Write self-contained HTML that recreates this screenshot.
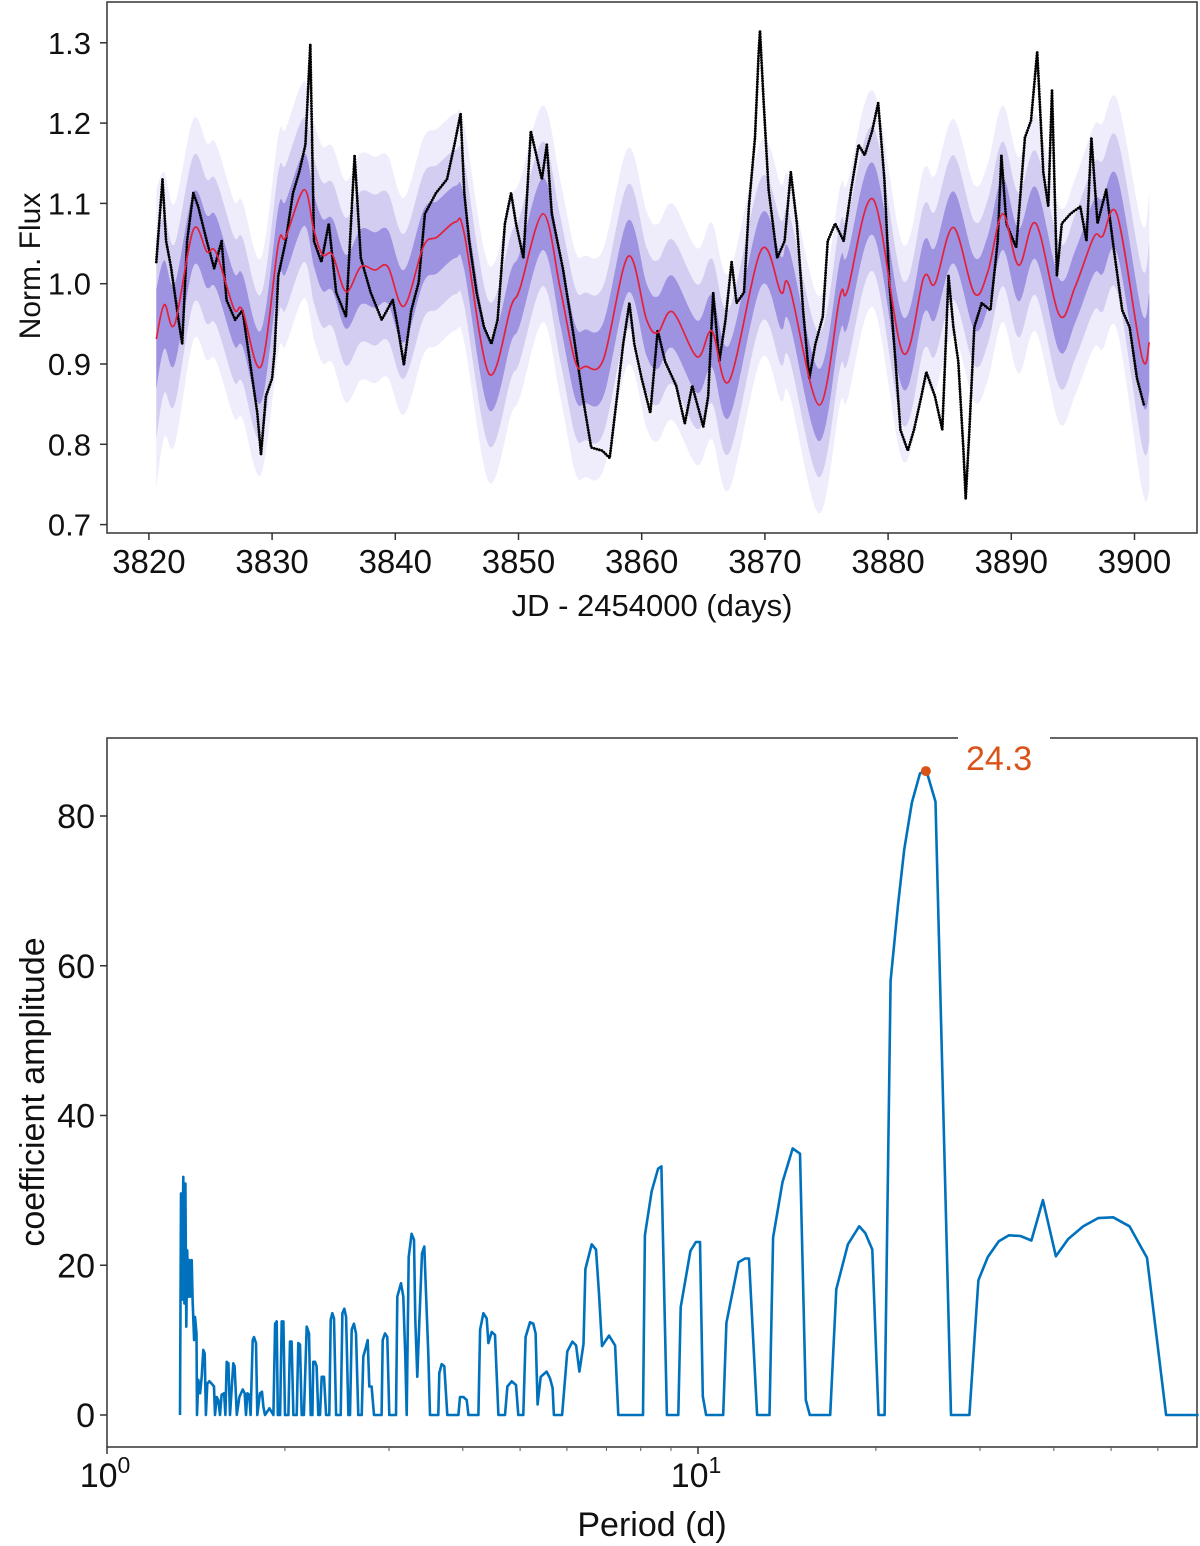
<!DOCTYPE html>
<html><head><meta charset="utf-8"><style>
html,body{margin:0;padding:0;background:#fff;}
svg{display:block;font-family:"Liberation Sans",sans-serif;}
</style></head><body>
<svg id="fig" width="1200" height="1546" viewBox="0 0 1200 1546" xmlns="http://www.w3.org/2000/svg">
<g id="topPanel"></g>
<g id="botPanel"></g>
</svg>
<script>
// ---------- Top panel data ----------
const gpDays = [3820.6,3821.25,3822.1,3823.6,3824.7,3825.45,3826.9,3827.6,3829.1,3830.5,3831.1,3832.6,3833.4,3834.1,3834.9,3836.0,3837.2,3838.35,3839.4,3840.7,3842.3,3843.4,3844.9,3845.6,3847.6,3849.4,3850.1,3852.0,3853.4,3854.6,3855.45,3856.9,3858.9,3860.4,3861.3,3862.5,3864.5,3865.7,3867.1,3869.7,3871.3,3872.0,3874.4,3876.1,3876.7,3878.8,3881.2,3882.9,3883.8,3885.3,3887.0,3888.1,3889.3,3890.6,3892.0,3893.9,3895.2,3896.7,3897.4,3898.6,3900.6,3901.2];
const gpMean = [0.931,0.974,0.950,1.067,1.040,1.039,0.969,0.967,0.897,1.049,1.058,1.117,1.066,1.036,1.036,0.990,1.021,1.017,1.021,0.972,1.047,1.058,1.077,1.062,0.888,0.972,0.993,1.087,0.993,0.903,0.897,0.906,1.034,0.955,0.939,0.965,0.909,0.941,0.879,1.042,0.989,0.996,0.849,0.985,0.991,1.105,0.914,1.008,1.000,1.070,0.988,1.015,1.087,1.023,1.075,0.961,0.997,1.058,1.059,1.085,0.909,0.927];
const gpSigma = [0.062,0.055,0.05,0.046,0.045,0.045,0.045,0.045,0.045,0.045,0.045,0.045,0.045,0.045,0.045,0.046,0.047,0.047,0.046,0.045,0.045,0.045,0.045,0.045,0.045,0.045,0.045,0.045,0.045,0.046,0.046,0.046,0.045,0.045,0.045,0.045,0.045,0.045,0.045,0.045,0.045,0.045,0.045,0.045,0.045,0.045,0.045,0.045,0.045,0.045,0.045,0.045,0.045,0.045,0.045,0.045,0.045,0.046,0.047,0.048,0.055,0.062];
const obsDays = [3820.6,3821.1,3821.4,3821.8,3822.4,3822.7,3823.1,3823.6,3824.0,3824.7,3825.3,3825.9,3826.3,3827.0,3827.6,3828.2,3828.8,3829.1,3829.5,3830.0,3830.2,3830.5,3831.1,3831.7,3832.2,3832.7,3833.0,3833.1,3833.4,3834.0,3834.6,3835.2,3836.0,3836.7,3837.2,3838.0,3838.9,3839.8,3840.2,3840.7,3841.3,3841.9,3842.4,3843.3,3844.2,3844.8,3845.3,3845.6,3846.0,3846.6,3847.2,3847.8,3848.3,3848.9,3849.4,3849.8,3850.4,3851.0,3851.9,3852.3,3852.7,3853.6,3854.5,3855.2,3855.9,3856.8,3857.4,3858.0,3858.5,3859.0,3859.4,3860.0,3860.7,3861.3,3861.9,3862.8,3863.5,3864.1,3865.0,3865.4,3865.8,3866.3,3866.8,3867.3,3867.7,3868.3,3868.7,3869.2,3869.5,3869.6,3869.9,3870.3,3871.0,3871.6,3872.1,3872.6,3873.1,3873.6,3874.1,3874.7,3875.1,3875.7,3876.4,3877.0,3877.6,3878.1,3878.7,3879.2,3879.7,3880.1,3880.6,3881.0,3881.6,3882.1,3882.7,3883.1,3883.8,3884.4,3884.9,3885.3,3885.7,3886.1,3886.3,3886.6,3887.0,3887.6,3888.3,3888.9,3889.2,3889.6,3890.4,3891.1,3891.6,3892.1,3892.6,3893.0,3893.3,3893.7,3894.1,3894.8,3895.6,3896.1,3896.5,3897.0,3897.7,3898.3,3899.0,3899.6,3900.2,3900.8];
const obsFlux = [1.027,1.13,1.053,1.02,0.955,0.925,1.053,1.113,1.096,1.053,1.019,1.053,0.98,0.955,0.967,0.903,0.839,0.787,0.86,0.882,0.916,1.01,1.053,1.113,1.139,1.173,1.268,1.298,1.053,1.027,1.075,0.989,0.959,1.16,1.032,0.989,0.955,0.98,0.946,0.899,0.967,1.002,1.087,1.113,1.13,1.173,1.212,1.113,1.053,0.989,0.946,0.925,0.955,1.075,1.113,1.075,1.032,1.19,1.13,1.173,1.087,1.019,0.933,0.86,0.796,0.792,0.783,0.86,0.925,0.976,0.925,0.882,0.839,0.942,0.903,0.873,0.826,0.873,0.822,0.86,0.989,0.903,0.955,1.027,0.976,0.989,1.096,1.182,1.289,1.315,1.225,1.117,1.032,1.053,1.139,1.075,0.967,0.882,0.925,0.959,1.053,1.075,1.053,1.117,1.173,1.16,1.19,1.225,1.13,1.002,0.903,0.818,0.792,0.818,0.86,0.89,0.86,0.818,1.01,0.946,0.903,0.796,0.732,0.818,0.946,0.976,0.967,1.053,1.16,1.075,1.045,1.182,1.203,1.289,1.139,1.096,1.242,1.01,1.075,1.087,1.096,1.053,1.182,1.075,1.117,1.045,0.967,0.946,0.882,0.847];
const topYTicks = [0.7,0.8,0.9,1.0,1.1,1.2,1.3];
const topXTicks = [3820,3830,3840,3850,3860,3870,3880,3890,3900];

// ---------- Bottom panel data ----------
const periods = [1.329,1.334,1.339,1.346,1.352,1.357,1.362,1.367,1.373,1.378,1.383,1.391,1.396,1.404,1.409,1.417,1.420,1.427,1.437,1.446,1.455,1.463,1.470,1.478,1.490,1.503,1.517,1.523,1.533,1.543,1.553,1.563,1.578,1.586,1.594,1.605,1.615,1.636,1.644,1.658,1.675,1.697,1.710,1.719,1.728,1.741,1.750,1.764,1.773,1.787,1.796,1.815,1.829,1.839,1.851,1.883,1.912,1.925,1.937,1.945,1.963,1.975,1.988,2.001,2.027,2.040,2.053,2.067,2.094,2.107,2.121,2.135,2.154,2.177,2.197,2.211,2.226,2.234,2.249,2.263,2.278,2.293,2.308,2.329,2.348,2.378,2.391,2.406,2.422,2.441,2.486,2.502,2.521,2.538,2.561,2.577,2.594,2.617,2.638,2.662,2.697,2.714,2.739,2.761,2.779,2.804,2.830,2.915,2.927,2.954,2.981,3.004,3.071,3.083,3.099,3.144,3.172,3.197,3.214,3.239,3.277,3.307,3.324,3.350,3.377,3.412,3.443,3.466,3.497,3.520,3.636,3.650,3.684,3.722,3.766,3.931,3.957,4.009,4.061,4.088,4.250,4.278,4.334,4.390,4.419,4.477,4.535,4.595,4.714,4.758,4.839,4.921,4.966,5.063,5.109,5.196,5.264,5.312,5.354,5.417,5.545,5.618,5.676,5.705,5.89,6.01,6.13,6.22,6.30,6.40,6.45,6.61,6.72,6.80,6.88,7.07,7.24,7.33,8.07,8.13,8.35,8.56,8.67,8.86,9.26,9.35,9.71,9.92,10.08,10.19,10.32,11.03,11.17,11.71,12.01,12.20,12.59,13.21,13.40,13.90,14.46,14.88,15.22,15.46,16.74,17.14,17.93,18.74,19.19,19.72,20.20,20.69,21.18,21.80,22.33,23.01,23.75,24.36,25.23,26.8,28.79,29.82,30.93,32.28,33.59,35.13,36.65,38.33,40.32,42.31,44.87,47.53,50.41,53.71,57.5,61.94,70.3];
const amps = [0,29.6,15.4,31.8,14.9,30.9,11.8,22.0,15.8,20.7,15.8,20.7,15.4,10.0,13.1,10.9,0,4.7,2.9,5.1,8.7,8.2,0,4.2,4.5,4.2,3.8,0,2.4,2.0,0,2.7,2.9,0,7.1,6.9,0,6.9,6.5,0,2.4,3.4,2.9,0,2.9,2.7,0,10.0,10.4,9.6,0,2.9,3.1,1.1,0,0.9,0,12.2,12.5,0,0,12.5,12.5,0,0,9.8,9.8,0,0,9.6,9.4,0,0,11.8,10.9,0,0,7.1,7.1,6.5,0,0,5.1,5.1,0,0,12.7,13.6,12.9,0,0,13.6,14.2,13.1,0,0,11.4,12.2,10.9,0,0,7.8,8.9,10.0,3.8,3.8,0,0,10.0,10.9,10.4,0,0,0,15.8,17.6,15.8,7.8,0,21.1,24.2,23.4,12.7,5.1,12.7,21.6,22.5,16.3,8.2,0,0,5.6,6.8,6.5,0,0,2.4,2.4,2.0,0,0,11.4,13.6,12.9,9.6,11.1,10.7,0,0,3.8,4.5,4.0,0,0,10.4,12.4,12.2,10.9,1.4,5.1,5.8,4.9,3.6,0,0,8.5,9.8,9.3,5.8,9.5,19.5,22.8,22.1,16.2,9.2,10.6,9.3,0,0,24,29.9,32.9,33.2,0,0,14.4,21.9,23.1,23.1,2.5,0,0,12.3,20.4,20.9,20.9,0,0,23.7,31.1,35.6,34.9,2,0,0,16.8,22.8,25.2,24.3,22.1,0,0,58,68.1,75.5,81.8,85.7,86.0,81.9,0,0,18,21.1,23.2,24,23.9,23.3,28.7,21.2,23.5,25.2,26.3,26.4,25.2,21.0,0,0];
const botYTicks = [0,20,40,60,80];
const peakPeriod = 24.3;
const peakAmp = 86.0;

const NS = "http://www.w3.org/2000/svg";
function mk(parent, tag, attrs, text){
  const e = document.createElementNS(NS, tag);
  for (const k in attrs) e.setAttribute(k, attrs[k]);
  if (text !== undefined) e.textContent = text;
  parent.appendChild(e);
  return e;
}
// Catmull-Rom smoothing of screen points -> cubic segments (no leading M)
function smoothSeg(pts){
  let s = '';
  for (let i = 0; i < pts.length - 1; i++){
    const p0 = pts[Math.max(0,i-1)], p1 = pts[i], p2 = pts[i+1], p3 = pts[Math.min(pts.length-1,i+2)];
    const c1x = p1[0] + (p2[0]-p0[0])/6, c1y = p1[1] + (p2[1]-p0[1])/6;
    const c2x = p2[0] - (p3[0]-p1[0])/6, c2y = p2[1] - (p3[1]-p1[1])/6;
    s += ' C'+c1x.toFixed(1)+','+c1y.toFixed(1)+' '+c2x.toFixed(1)+','+c2y.toFixed(1)+' '+p2[0].toFixed(1)+','+p2[1].toFixed(1);
  }
  return s;
}

// ---------- Top panel ----------
const T = {l:107, r:1197, t:2, b:533};
const xT = d => 148.9 + (d - 3820) * 12.32;
const yT = f => 283.7 - (f - 1) * 803;
const topG = document.getElementById('topPanel');

function bandPath(k){
  const up = gpDays.map((d,i)=> [xT(d), yT(gpMean[i]+k*gpSigma[i])]);
  const dn = gpDays.map((d,i)=> [xT(d), yT(gpMean[i]-k*gpSigma[i])]).reverse();
  return 'M'+up[0][0].toFixed(1)+','+up[0][1].toFixed(1)+smoothSeg(up)+' L'+dn[0][0].toFixed(1)+','+dn[0][1].toFixed(1)+smoothSeg(dn)+' Z';
}
const bandColors = ['#efedfb','#d3cdf1','#9d93e0'];
[3,2,1].forEach((k,j)=>{
  const p = mk(topG,'path',{d:bandPath(k), fill:bandColors[j], stroke:'none'});
  
  
});
const obs = mk(topG,'polyline',{points:obsDays.map((d,i)=>xT(d).toFixed(1)+','+yT(obsFlux[i]).toFixed(1)).join(' '), fill:'none', stroke:'#000', 'stroke-width':2.8, 'stroke-dasharray':'0 2.6', 'stroke-linecap':'round'});


const meanPts = gpDays.map((d,i)=>[xT(d), yT(gpMean[i])]);
const gp = mk(topG,'path',{d:'M'+meanPts[0][0].toFixed(1)+','+meanPts[0][1].toFixed(1)+smoothSeg(meanPts), fill:'none', stroke:'#e4203a', 'stroke-width':1.7});


const tf = mk(topG,'rect',{x:T.l,y:T.t,width:T.r-T.l,height:T.b-T.t,fill:'none',stroke:'#333','stroke-width':1.5});


topYTicks.forEach(v=>{
  const y = yT(v);
  mk(topG,'line',{x1:T.l-7,x2:T.l,y1:y,y2:y,stroke:'#333','stroke-width':1.5});
  const t = mk(topG,'text',{x:T.l-16,y:y+11,'text-anchor':'end','font-size':31,fill:'#111'}, v.toFixed(1));
  
  
});
topXTicks.forEach(v=>{
  const x = xT(v);
  mk(topG,'line',{x1:x,x2:x,y1:T.b,y2:T.b+7,stroke:'#333','stroke-width':1.5});
  const t = mk(topG,'text',{x:x,y:573,'text-anchor':'middle','font-size':33,fill:'#111'}, String(v));
  
  
});
const tyl = mk(topG,'text',{x:0,y:0,transform:'translate(40,266) rotate(-90)','text-anchor':'middle','font-size':30,fill:'#111'}, 'Norm. Flux');


const txl = mk(topG,'text',{x:652,y:616,'text-anchor':'middle','font-size':31,fill:'#111'}, 'JD - 2454000 (days)');



// ---------- Bottom panel ----------
const B = {l:107, r:1197, t:738, b:1447};
const xB = p => 107 + 591 * Math.log10(p);
const yB = a => 1415 - a * 7.4875;
const botG = document.getElementById('botPanel');
const bf = mk(botG,'rect',{x:B.l,y:B.t,width:B.r-B.l,height:B.b-B.t,fill:'none',stroke:'#333','stroke-width':1.5});


const pg = mk(botG,'polyline',{points:periods.map((p,i)=>xB(p).toFixed(1)+','+yB(amps[i]).toFixed(1)).join(' '), fill:'none', stroke:'#0072bd', 'stroke-width':2.6, 'stroke-linejoin':'round'});


const bgr = mk(botG,'rect',{x:958,y:728,width:92,height:46,fill:'#fff'});


const pd = mk(botG,'circle',{cx:xB(peakPeriod),cy:yB(peakAmp),r:5,fill:'#d95319'});


const pl = mk(botG,'text',{x:966,y:770,'font-size':34,fill:'#d95319'}, String(peakPeriod));


botYTicks.forEach(v=>{
  const y = yB(v);
  mk(botG,'line',{x1:B.l-7,x2:B.l,y1:y,y2:y,stroke:'#333','stroke-width':1.5});
  const t = mk(botG,'text',{x:B.l-12,y:y+12,'text-anchor':'end','font-size':34,fill:'#111'}, String(v));
  
  
});
[2,3,4,5,6,7,8,9,20,30,40,50,60].forEach(p=>{
  const x = xB(p);
  mk(botG,'line',{x1:x,x2:x,y1:B.b,y2:B.b+4,stroke:'#555','stroke-width':1});
});
[[1,'0'],[10,'1']].forEach(([p,e])=>{
  const x = xB(p);
  mk(botG,'line',{x1:x,x2:x,y1:B.b,y2:B.b+7,stroke:'#333','stroke-width':1.5});
  const t = mk(botG,'text',{x:x-2,y:1487,'text-anchor':'middle','font-size':34,fill:'#111'});
  
  
  mk(t,'tspan',{},'10');
  mk(t,'tspan',{dy:-14,'font-size':23},e);
});
const byl = mk(botG,'text',{x:0,y:0,transform:'translate(44,1092) rotate(-90)','text-anchor':'middle','font-size':34,fill:'#111'}, 'coefficient amplitude');


const bxl = mk(botG,'text',{x:652,y:1536,'text-anchor':'middle','font-size':34,fill:'#111'}, 'Period (d)');


</script>
</body></html>
